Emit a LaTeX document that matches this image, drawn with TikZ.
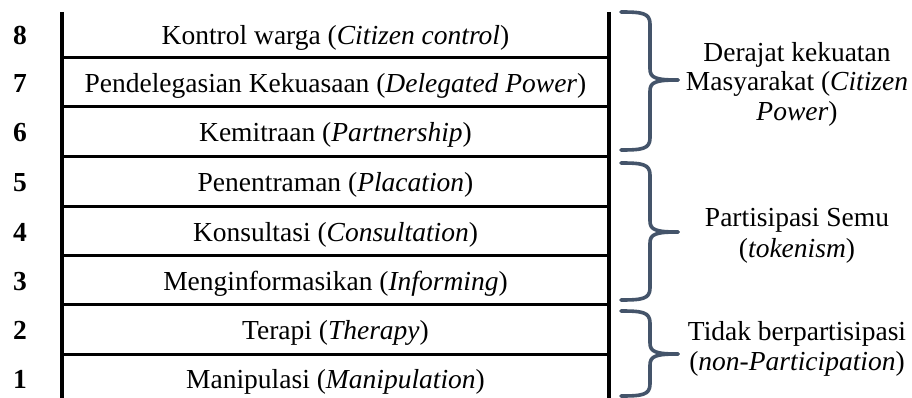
\documentclass[tikz,border=0pt]{standalone}
\usepackage{fontspec}
\setmainfont{Liberation Serif}
\definecolor{bracecol}{HTML}{44546A}
\tikzset{
  rung/.style={line width=3pt, black},
  rail/.style={line width=3.2pt, black},
  level/.style={anchor=base, inner sep=0pt, font=\fontsize{27.5}{30}\selectfont},
  num/.style={anchor=base, inner sep=0pt, font=\fontsize{27.5}{30}\selectfont\bfseries},
  grp/.style={anchor=base, inner sep=0pt, font=\fontsize{27.5}{30}\selectfont},
  brc/.style={line width=3.6pt, bracecol, line cap=round, line join=round},
}
\begin{document}
\begin{tikzpicture}[x=1pt, y=-1pt]
  \useasboundingbox (0,0) rectangle (912,398);

  % rails of the ladder
  \coordinate (lt) at (62,12);  \coordinate (lb) at (62,398);
  \coordinate (rt) at (609,12); \coordinate (rb) at (609,398);
  \draw[rail] (lt) -- (lb);
  \draw[rail] (rt) -- (rb);

  % rungs between the levels
  \foreach \y in {58,107,157,206,255,304,354}
    \draw[rung] (62,\y) -- (609,\y);

  % level numbers and descriptions (baseline positions)
  \node[num] (n8) at (20,45) {8};
  \node[num] (n7) at (20,93) {7};
  \node[num] (n6) at (20,142) {6};
  \node[num] (n5) at (20,192) {5};
  \node[num] (n4) at (20,241) {4};
  \node[num] (n3) at (20,290) {3};
  \node[num] (n2) at (20,339) {2};
  \node[num] (n1) at (20,388) {1};

  \node[level] (t8) at (335.5,45) {Kontrol warga (\textit{Citizen control})};
  \node[level] (t7) at (335.5,93) {Pendelegasian Kekuasaan (\textit{Delegated Power})};
  \node[level] (t6) at (335.5,142) {Kemitraan (\textit{Partnership})};
  \node[level] (t5) at (335.5,192) {Penentraman (\textit{Placation})};
  \node[level] (t4) at (335.5,241) {Konsultasi (\textit{Consultation})};
  \node[level] (t3) at (335.5,290) {Menginformasikan (\textit{Informing})};
  \node[level] (t2) at (335.5,339) {Terapi (\textit{Therapy})};
  \node[level] (t1) at (335.5,388) {Manipulasi (\textit{Manipulation})};

  % curly braces grouping the levels
  \foreach \t/\m/\b in {12/80/150, 163/232/300, 311/354/396}{
    \draw[brc] (621,\t) .. controls (642,\t) and (650,\t+1) .. (650,\t+12)
      -- (650,\m-11) .. controls (650,\m-2) and (656,\m) .. (678,\m);
    \draw[brc] (678,\m) .. controls (656,\m) and (650,\m+2) .. (650,\m+11)
      -- (650,\b-12) .. controls (650,\b-1) and (642,\b) .. (621,\b);
  }

  % group labels
  \node[grp] (g1a) at (797,62) {Derajat kekuatan};
  \node[grp] (g1b) at (797,91) {Masyarakat (\textit{Citizen}};
  \node[grp] (g1c) at (797,121) {\textit{Power})};
  \node[grp] (g2a) at (797,226) {Partisipasi Semu};
  \node[grp] (g2b) at (797,257) {(\textit{tokenism})};
  \node[grp] (g3a) at (797,340) {Tidak berpartisipasi};
  \node[grp] (g3b) at (797,370) {(\textit{non-Participation})};
\end{tikzpicture}
\end{document}
